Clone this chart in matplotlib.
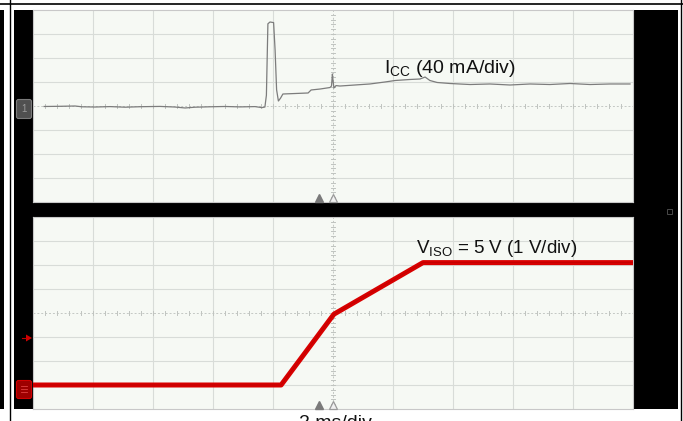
import numpy as np
import matplotlib
matplotlib.use("Agg")
import matplotlib.pyplot as plt
from matplotlib.patches import Rectangle, FancyBboxPatch, Polygon

plt.rcParams['font.family'] = ['Liberation Sans', 'DejaVu Sans']

# ---------------- data ----------------
# Supply current I_CC (time in ms, current in mA), 2 ms/div, 40 mA/div
icc_t = [0.37, 0.9, 1.4, 1.63, 2.07, 2.57, 3.07, 3.57, 4.23, 4.73, 5.07, 5.4,
         5.9, 6.4, 6.9, 7.4, 7.63, 7.73, 7.78, 7.83, 7.9, 8.02, 8.07, 8.12,
         8.18, 8.25, 8.33, 8.73, 9.17, 9.27, 9.57, 9.9, 9.95, 9.98, 10.0,
         10.03, 10.1, 10.23, 10.73, 11.23, 11.73, 12.07, 12.57, 12.9, 13.07,
         13.23, 13.47, 13.9, 14.57, 15.23, 15.9, 16.57, 17.23, 17.9, 18.57,
         19.23, 19.9]
icc_ma = [-0.8, -0.5, 0.0, -1.3, -1.7, -1.0, -2.0, -1.2, -0.7, -1.7, -3.3, -2.0,
          -1.3, -0.8, -1.5, -1.0, -2.7, -1.7, 18, 137, 140, 139, 93, 27,
          8.3, 13, 20, 20.8, 21.7, 26.7, 28.3, 30.8, 33.3, 53.3, 43,
          30, 34, 33.3, 35, 36.7, 40, 42.5, 44.2, 45, 48.3,
          42.5, 39.2, 37.5, 35.8, 36.7, 35, 36.7, 35.8, 37.5, 35.8,
          36.7, 36.7]

# Isolated output voltage V_ISO (time in ms, volts), 1 V/div
viso_t = [0.0, 8.27, 10.03, 13.0, 20.0]
viso_v = [0.0, 0.0, 2.95, 5.1, 5.1]

icc_label = r'$\mathregular{I_{CC}}$ (40 mA/div)'
viso_label = r'$\mathregular{V_{ISO}}$ = 5 V (1 V/div)'
time_label = '2 ms/div'

T_LIM = (0, 20)
T_DIV = 2
I_LIM = (-160, 160)
I_DIV = 40
V_LIM = (-1, 7)
V_DIV = 1

# ---------------- figure ----------------
W, H = 683, 421
fig = plt.figure(figsize=(W / 100, H / 100), dpi=100)
fig.patch.set_facecolor('white')

bg = fig.add_axes([0, 0, 1, 1])
bg.set_xlim(0, W)
bg.set_ylim(H, 0)
bg.axis('off')

# scope black screen and outer frame
bg.add_patch(Rectangle((14, 10), 664, 399, facecolor='black', edgecolor='none'))
bg.add_patch(Rectangle((0, 10), 4.3, 399, facecolor='black', edgecolor='none'))
bg.plot([0, W], [4.2, 4.2], color='black', lw=1.2)
bg.plot([9.5, 9.5], [0, H], color='black', lw=1.0)
bg.plot([680.5, 680.5], [0, H], color='black', lw=1.0)

# channel markers on left
bg.add_patch(FancyBboxPatch((17, 100), 14, 18, boxstyle='round,pad=0.5,rounding_size=2',
                            facecolor='#505050', edgecolor='#7a7a7a', lw=0.8))
bg.text(24, 109, '1', color='#9a9a9a', fontsize=7, ha='center', va='center')
bg.add_patch(FancyBboxPatch((17, 381), 14, 17, boxstyle='round,pad=0.5,rounding_size=2',
                            facecolor='#9e0000', edgecolor='#d00000', lw=0.8))
for yy in (386, 389, 392):
    bg.plot([21, 27], [yy, yy], color='#e04040', lw=0.6)
bg.add_patch(Polygon([[26, 334.5], [32, 338], [26, 341.5]], closed=True,
                     facecolor='#d00000', edgecolor='none'))
bg.plot([22, 26], [338, 338], color='#c00000', lw=0.8)
bg.add_patch(Rectangle((667, 209), 5, 5, facecolor='none', edgecolor='#555555', lw=0.6))


def px_axes(x0, y0, x1, y1):
    return fig.add_axes([x0 / W, 1 - y1 / H, (x1 - x0) / W, (y1 - y0) / H])


panel_bg = '#f6f9f4'
grid_c = '#d8dcd8'


def style_panel(ax, ylim, ydiv):
    ax.set_facecolor(panel_bg)
    ax.set_xlim(*T_LIM)
    ax.set_ylim(*ylim)
    ax.set_xticks([])
    ax.set_yticks([])
    for s in ax.spines.values():
        s.set_color('#c8c8c8')
        s.set_linewidth(0.8)
    xc = (T_LIM[0] + T_LIM[1]) / 2
    yc = (ylim[0] + ylim[1]) / 2
    for xv in np.arange(T_LIM[0] + T_DIV, T_LIM[1], T_DIV):
        if abs(xv - xc) > 1e-9:
            ax.axvline(xv, color=grid_c, lw=0.8, zorder=1)
    for yv in np.arange(ylim[0] + ydiv, ylim[1], ydiv):
        if abs(yv - yc) > 1e-9:
            ax.axhline(yv, color=grid_c, lw=0.8, zorder=1)
    # center lines, dotted with minor ticks
    ax.axvline(xc, color='#c4c8c4', lw=0.7, ls=(0, (2, 2)), zorder=1)
    ax.axhline(yc, color='#c4c8c4', lw=0.7, ls=(0, (2, 2)), zorder=1)
    ytick_h = (ylim[1] - ylim[0]) / 192 * 2.0
    xtick_w = (T_LIM[1] - T_LIM[0]) / 600 * 2.0
    for xv in np.arange(T_LIM[0], T_LIM[1] + 1e-9, T_DIV / 5):
        ax.plot([xv, xv], [yc - ytick_h, yc + ytick_h], color='#c0c4c0', lw=0.7, zorder=1)
    for yv in np.arange(ylim[0], ylim[1] + 1e-9, ydiv / 5):
        ax.plot([xc - xtick_w, xc + xtick_w], [yv, yv], color='#c0c4c0', lw=0.7, zorder=1)
    # trigger markers at bottom
    ax.plot([0.477], [0.022], marker='^', ms=5.5, color='#7a7a7a', mec='#7a7a7a',
            transform=ax.transAxes, clip_on=False, zorder=5)
    ax.plot([0.4995], [0.022], marker='^', ms=5.5, mfc='#f0f0f0', mec='#9a9a9a',
            mew=0.9, transform=ax.transAxes, clip_on=False, zorder=5)


ax1 = px_axes(33, 10, 633, 202)
style_panel(ax1, I_LIM, I_DIV)
ax1.plot(icc_t, icc_ma, color='#7c7c7c', lw=0.9, zorder=3)
ax1.text(0.585, 0.670, icc_label, transform=ax1.transAxes, fontsize=14,
         color='#111111', ha='left', va='baseline', zorder=4)

ax2 = px_axes(33, 217, 633, 409)
style_panel(ax2, V_LIM, V_DIV)
ax2.plot(viso_t, viso_v, color='#d80000', lw=3.6, solid_capstyle='butt', zorder=3)
ax2.plot(viso_t, viso_v, color='#b00000', lw=0.6, alpha=0.6, zorder=3)
ax2.text(0.638, 0.814, viso_label, transform=ax2.transAxes, fontsize=13.5,
         color='#111111', ha='left', va='baseline', zorder=4)

fig.text(335 / W, 1 - 415 / H, time_label, fontsize=14, color='#111111',
         ha='center', va='top')

fig.savefig('out.png', dpi=100, facecolor='white')
